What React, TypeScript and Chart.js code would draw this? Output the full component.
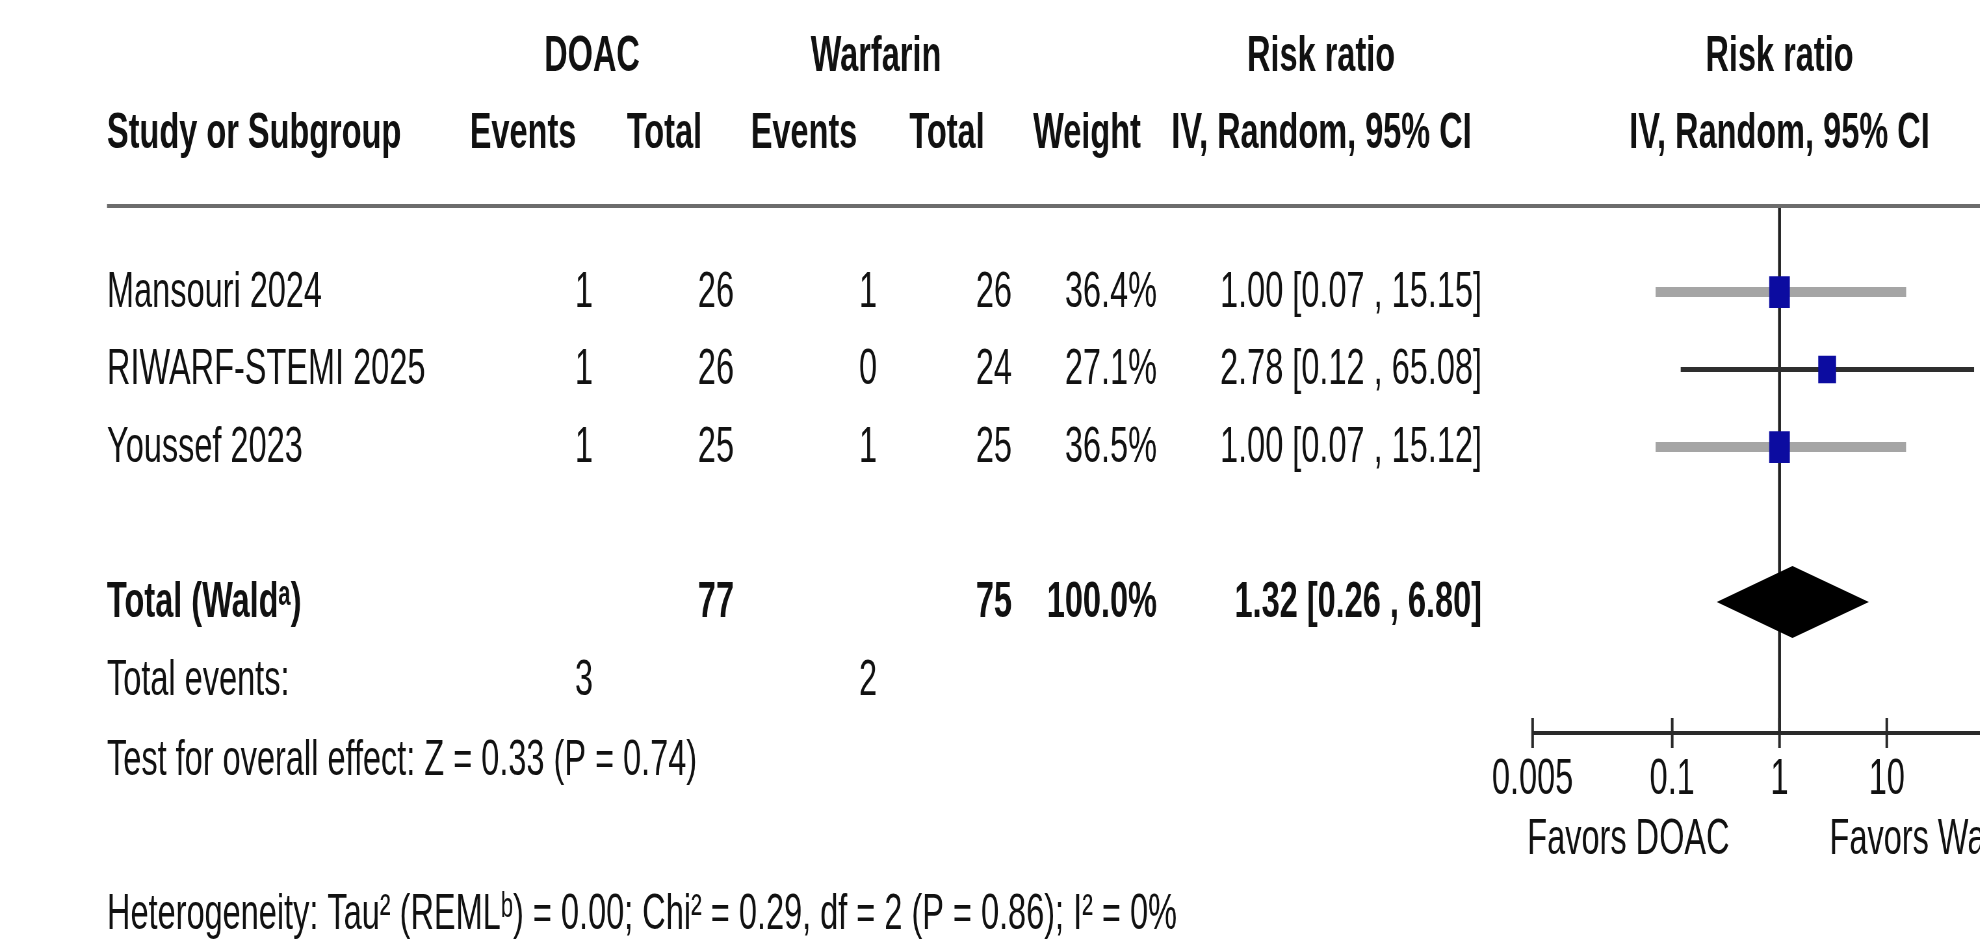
import React, { useEffect, useRef } from "react";
import { Chart, registerables } from "chart.js";

Chart.register(...registerables);

// ---------- data ----------
const studies = ["Mansouri 2024", "RIWARF-STEMI 2025", "Youssef 2023"];
const doacEvents = [1, 1, 1];
const doacTotals = [26, 26, 25];
const warfarinEvents = [1, 0, 1];
const warfarinTotals = [26, 24, 25];
const weights = [36.4, 27.1, 36.5];
const riskRatios = [1.0, 2.78, 1.0];
const ciLower = [0.07, 0.12, 0.07];
const ciUpper = [15.15, 65.08, 15.12];

const pooledRR = 1.32;
const pooledLower = 0.26;
const pooledUpper = 6.8;
const pooledWeight = 100.0;
const totalDoac = 77;
const totalWarfarin = 75;
const totalEventsDoac = 3;
const totalEventsWarfarin = 2;

const tickValues = [0.005, 0.1, 1, 10, 200];
const tickLabels = ["0.005", "0.1", "1", "10", "200"];

const groupLabels = ["DOAC", "Warfarin"];
const leftLabel = "Favors DOAC";
const rightLabel = "Favors Warfarin";
const totalLabel = "Total (Waldᵃ)";
const totalEventsLabel = "Total events:";
const overallEffectText = "Test for overall effect: Z = 0.33 (P = 0.74)";
const heterogeneityText =
  "Heterogeneity: Tau² (REMLᵇ) = 0.00; Chi² = 0.29, df = 2 (P = 0.86); I² = 0%";

// ---------- layout / style ----------
const SX = 0.65; // horizontal squeeze of the whole figure
const CANVAS_W = 3250;
const CANVAS_H = 946;
const L = (px: number) => px / SX; // screen x -> canvas x

const AXIS_Y = 733;
const HEADER_LINE_Y = 206;
const X_AT_005 = L(1532.6);
const X_AT_200 = L(2026.4);

const FONT = "'Liberation Sans', Arial, 'DejaVu Sans', sans-serif";
const TEXT = "#111111";
const ciColors = ["#a5a5a5", "#2e2e2e", "#a5a5a5"];
const ciWidths = [10, 5, 10];
const squareColor = "#0c0ca0";

const fmt2 = (v: number) => v.toFixed(2);
const ciText = (r: number, lo: number, hi: number) =>
  `${fmt2(r)} [${fmt2(lo)} , ${fmt2(hi)}]`;

const forestPlugin = {
  id: "forestTable",
  beforeDatasetsDraw(chart: any) {
    const { ctx, chartArea, scales } = chart;
    const x1 = scales.x.getPixelForValue(1);
    ctx.save();
    ctx.strokeStyle = "#222222";
    ctx.lineWidth = 4.5;
    ctx.beginPath();
    ctx.moveTo(x1, chartArea.top);
    ctx.lineTo(x1, chartArea.bottom);
    ctx.stroke();
    ctx.restore();
  },
  afterDatasetsDraw(chart: any) {
    const { ctx, scales } = chart;
    const xs = scales.x;
    const yc = scales.y.getPixelForValue(studies.length + 1);
    const half = 36;
    ctx.save();
    ctx.fillStyle = "#000000";
    ctx.beginPath();
    ctx.moveTo(xs.getPixelForValue(pooledLower), yc);
    ctx.lineTo(xs.getPixelForValue(pooledRR), yc - half);
    ctx.lineTo(xs.getPixelForValue(pooledUpper), yc);
    ctx.lineTo(xs.getPixelForValue(pooledRR), yc + half);
    ctx.closePath();
    ctx.fill();
    ctx.restore();
  },
  afterDraw(chart: any) {
    const { ctx, chartArea, scales } = chart;
    const xs = scales.x;
    const ys = scales.y;
    const x1 = xs.getPixelForValue(1);
    ctx.save();

    // header rule
    ctx.strokeStyle = "#6c6c6c";
    ctx.lineWidth = 4;
    ctx.beginPath();
    ctx.moveTo(L(107), HEADER_LINE_Y);
    ctx.lineTo(chart.width, HEADER_LINE_Y);
    ctx.stroke();

    // tick marks crossing the axis
    ctx.strokeStyle = "#2a2a2a";
    ctx.lineWidth = 4;
    xs.ticks.forEach((t: any) => {
      const px = xs.getPixelForValue(t.value);
      ctx.beginPath();
      ctx.moveTo(px, chartArea.bottom - 15);
      ctx.lineTo(px, chartArea.bottom + 15);
      ctx.stroke();
    });

    ctx.fillStyle = TEXT;
    ctx.textBaseline = "middle";
    const txt = (s: string, x: number, y: number, align: CanvasTextAlign, bold = false) => {
      ctx.font = `${bold ? "bold " : ""}50px ${FONT}`;
      ctx.textAlign = align;
      ctx.fillText(s, x, y);
    };

    // headers
    const h1 = 57;
    const h2 = 134;
    txt(groupLabels[0], L(592), h1, "center", true);
    txt(groupLabels[1], L(876), h1, "center", true);
    txt("Risk ratio", L(1321), h1, "center", true);
    txt("Risk ratio", x1, h1, "center", true);
    txt("Study or Subgroup", L(107), h2, "left", true);
    txt("Events", L(523), h2, "center", true);
    txt("Total", L(664.5), h2, "center", true);
    txt("Events", L(804), h2, "center", true);
    txt("Total", L(947), h2, "center", true);
    txt("Weight", L(1087), h2, "center", true);
    txt("IV, Random, 95% CI", L(1321.5), h2, "center", true);
    txt("IV, Random, 95% CI", x1, h2, "center", true);

    // study rows
    studies.forEach((name, i) => {
      const y = ys.getPixelForValue(i) + 1;
      txt(name, L(107), y, "left");
      txt(String(doacEvents[i]), L(593), y, "right");
      txt(String(doacTotals[i]), L(734), y, "right");
      txt(String(warfarinEvents[i]), L(877), y, "right");
      txt(String(warfarinTotals[i]), L(1012), y, "right");
      txt(`${weights[i].toFixed(1)}%`, L(1157), y, "right");
      txt(ciText(riskRatios[i], ciLower[i], ciUpper[i]), L(1482), y, "right");
    });

    // total row
    const yt = ys.getPixelForValue(studies.length + 1) + 1;
    txt(totalLabel, L(107), yt, "left", true);
    txt(String(totalDoac), L(734), yt, "right", true);
    txt(String(totalWarfarin), L(1012), yt, "right", true);
    txt(`${pooledWeight.toFixed(1)}%`, L(1157), yt, "right", true);
    txt(ciText(pooledRR, pooledLower, pooledUpper), L(1482), yt, "right", true);

    const ye = ys.getPixelForValue(studies.length + 2) + 2;
    txt(totalEventsLabel, L(107), ye, "left");
    txt(String(totalEventsDoac), L(593), ye, "right");
    txt(String(totalEventsWarfarin), L(877), ye, "right");

    const yo = ys.getPixelForValue(studies.length + 3) + 4;
    txt(overallEffectText, L(107), yo, "left");
    txt(heterogeneityText, L(107), 915, "left");

    // favours labels
    txt(leftLabel, x1 - L(50), 840, "right");
    txt(rightLabel, x1 + L(50), 840, "left");

    ctx.restore();
  },
};

export default function App() {
  const canvasRef = useRef<HTMLCanvasElement | null>(null);

  useEffect(() => {
    const canvas = canvasRef.current;
    if (!canvas) return;

    const lineSets = studies.map((name, i) => ({
      type: "line" as const,
      label: `${name} CI`,
      data: [
        { x: ciLower[i], y: i },
        { x: ciUpper[i], y: i },
      ],
      borderColor: ciColors[i],
      borderWidth: ciWidths[i],
      borderCapStyle: "butt" as const,
      pointRadius: 0,
      showLine: true,
      fill: false,
      order: 2,
    }));

    const squares = {
      type: "scatter" as const,
      label: "Risk ratio",
      data: riskRatios.map((r, i) => ({ x: r, y: i })),
      pointStyle: "rect" as const,
      pointRadius: (c: any) => 3.72 * Math.sqrt(weights[c.dataIndex] ?? 0),
      backgroundColor: squareColor,
      borderColor: squareColor,
      borderWidth: 0,
      order: 1,
    };

    const chart = new Chart(canvas, {
      type: "scatter",
      data: { datasets: [...lineSets, squares] as any },
      options: {
        responsive: false,
        animation: false,
        devicePixelRatio: 1,
        events: [],
        layout: {
          padding: {
            left: X_AT_005,
            right: CANVAS_W - X_AT_200,
            top: HEADER_LINE_Y,
            bottom: 0,
          },
        },
        plugins: {
          legend: { display: false },
          tooltip: { enabled: false },
          title: { display: false },
        },
        scales: {
          x: {
            type: "logarithmic",
            position: "bottom",
            min: tickValues[0],
            max: tickValues[tickValues.length - 1],
            afterBuildTicks: (s: any) => {
              s.ticks = tickValues.map((v) => ({ value: v }));
            },
            afterFit: (s: any) => {
              s.height = CANVAS_H - AXIS_Y;
            },
            grid: { display: false, drawTicks: false },
            border: { display: true, color: "#2a2a2a", width: 4 },
            ticks: {
              color: TEXT,
              font: { family: FONT, size: 50 },
              padding: 17,
              autoSkip: false,
              maxRotation: 0,
              minRotation: 0,
              callback: (_v: any, i: number) => tickLabels[i],
            },
          },
          y: {
            type: "linear",
            reverse: true,
            min: -1.11,
            max: 5.69,
            display: false,
          },
        },
      } as any,
      plugins: [forestPlugin],
    });

    return () => chart.destroy();
  }, []);

  return (
    <div
      style={{
        position: "fixed",
        left: 0,
        top: 0,
        width: 1980,
        height: 946,
        overflow: "hidden",
        background: "#ffffff",
      }}
    >
      <canvas
        ref={canvasRef}
        width={CANVAS_W}
        height={CANVAS_H}
        style={{
          display: "block",
          width: `${CANVAS_W}px`,
          height: `${CANVAS_H}px`,
          transform: `scaleX(${SX})`,
          transformOrigin: "0 0",
        }}
      />
    </div>
  );
}
